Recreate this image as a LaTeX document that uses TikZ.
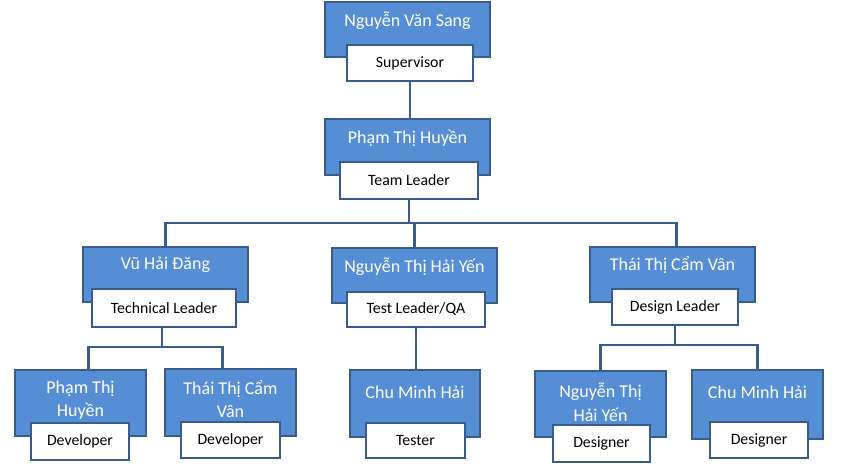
\documentclass[tikz,border=0pt]{standalone}
\usepackage{fontspec}
\setmainfont{Carlito}
\usepackage{tikz}
\usetikzlibrary{positioning}
\definecolor{boxblue}{RGB}{85,142,213}
\definecolor{edgeblue}{RGB}{56,93,138}

\begin{document}
\begin{tikzpicture}[x=1pt, y=-1pt,
  person/.style={draw=edgeblue, line width=2.6pt, fill=boxblue, inner sep=0pt},
  role/.style={draw=edgeblue, line width=2.6pt, fill=white, inner sep=0pt, font=\fontsize{15.8}{18}\selectfont},
  nametext/.style={text=white, align=center, inner sep=0pt, font=\fontsize{18}{23.5}\selectfont},
  link/.style={draw=edgeblue, line width=2.6pt}]
\useasboundingbox (0,0) rectangle (842,471);

\node[person, minimum width=165, minimum height=55] (sang) at (407.5, 29.5) {};
\node[nametext] (sangname) at ([yshift=-20]sang.north) {Nguyễn Văn Sang};
\node[role, minimum width=126, minimum height=36] (sangrole) at (410, 63) {Supervisor};

\node[person, minimum width=165, minimum height=56] (huyen) at (407.5, 147) {};
\node[nametext] (huyenname) at ([yshift=-21]huyen.north) {Phạm Thị Huyền};
\node[role, minimum width=138, minimum height=37] (huyenrole) at (409, 180.5) {Team Leader};

\node[person, minimum width=165, minimum height=55] (dang) at (165.5, 274.5) {};
\node[nametext] (dangname) at ([yshift=-19]dang.north) {Vũ Hải Đăng};
\node[role, minimum width=144, minimum height=38] (dangrole) at (164, 308) {Technical Leader};

\node[person, minimum width=165, minimum height=55] (yen) at (414.5, 275.5) {};
\node[nametext] (yenname) at ([yshift=-20]yen.north) {Nguyễn Thị Hải Yến};
\node[role, minimum width=138, minimum height=35] (yenrole) at (416, 309.5) {Test Leader/QA};

\node[person, minimum width=165, minimum height=55] (van) at (672.5, 274.5) {};
\node[nametext] (vanname) at ([yshift=-19]van.north) {Thái Thị Cẩm Vân};
\node[role, minimum width=126, minimum height=36] (vanrole) at (675, 307) {Design Leader};

\node[person, minimum width=131, minimum height=66] (dev1) at (80.5, 403) {};
\node[nametext] (dev1name) at ([yshift=-31.5]dev1.north) {Phạm Thị\\Huyền};
\node[role, minimum width=98, minimum height=37] (dev1role) at (80, 441.5) {Developer};

\node[person, minimum width=131, minimum height=67] (dev2) at (230.5, 402.5) {};
\node[nametext] (dev2name) at ([yshift=-31.5]dev2.north) {Thái Thị Cẩm\\Vân};
\node[role, minimum width=99, minimum height=36] (dev2role) at (230.5, 440) {Developer};

\node[person, minimum width=130, minimum height=67] (tester) at (415, 403.5) {};
\node[nametext] (testername) at ([yshift=-24]tester.north) {Chu Minh Hải};
\node[role, minimum width=99, minimum height=35] (testerrole) at (415.5, 440.5) {Tester};

\node[person, minimum width=131, minimum height=66] (des1) at (600.5, 404) {};
\node[nametext] (des1name) at ([yshift=-32.5]des1.north) {Nguyễn Thị\\Hải Yến};
\node[role, minimum width=97, minimum height=37] (des1role) at (601.5, 443.5) {Designer};

\node[person, minimum width=131, minimum height=69] (des2) at (757.5, 404.5) {};
\node[nametext] (des2name) at ([yshift=-24]des2.north) {Chu Minh Hải};
\node[role, minimum width=98, minimum height=36] (des2role) at (759, 440) {Designer};

\coordinate (topbus) at (0, 223);
\coordinate (leftbus) at (0, 347);
\coordinate (rightbus) at (0, 345);

\draw[link] (sangrole.south) -- (sangrole.south |- huyen.north);
\draw[link] (huyenrole.south) -- (huyenrole.south |- topbus);
\draw[link] (dang.north) -- (dang.north |- topbus) -| ([xshift=4]van.north);
\draw[link] (yen.north) -- (yen.north |- topbus);
\draw[link] (yenrole.south) -- (yenrole.south |- tester.north);

\draw[link] ([xshift=-2]dangrole.south) -- ([xshift=-2]dangrole.south |- leftbus);
\draw[link] ([xshift=8]dev1.north) -- ([xshift=8]dev1.north |- leftbus) -| ([xshift=-8]dev2.north);

\draw[link] (vanrole.south) -- (vanrole.south |- rightbus);
\draw[link] (des1.north) -- (des1.north |- rightbus) -| (des2.north);

\end{tikzpicture}
\end{document}
